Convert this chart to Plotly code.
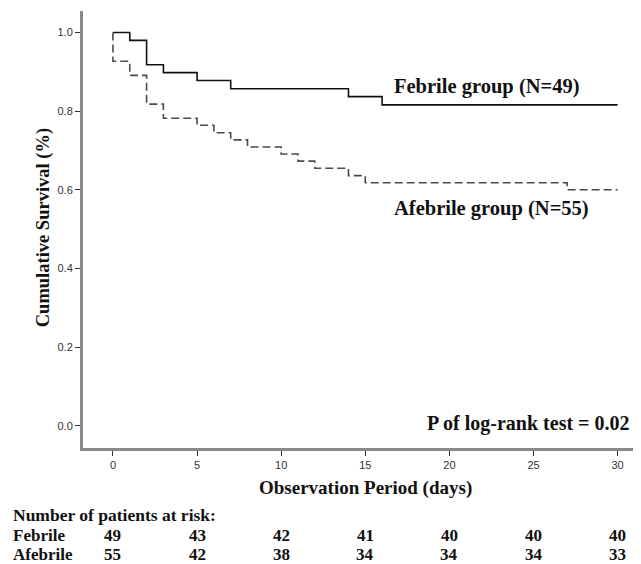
import plotly.graph_objects as go

# Kaplan-Meier step data
febrile_t = [0, 1, 2, 3, 5, 7, 14, 16, 30]
febrile_s = [1.0, 0.980, 0.918, 0.898, 0.878, 0.857, 0.837, 0.816, 0.816]

afebrile_t = [0, 0, 1, 2, 3, 5, 6, 7, 8, 10, 11, 12, 14, 15, 27, 30]
afebrile_s = [1.0, 0.927, 0.891, 0.818, 0.782, 0.764, 0.745, 0.727, 0.709,
              0.691, 0.673, 0.655, 0.636, 0.618, 0.600, 0.600]

risk_times = [0, 5, 10, 15, 20, 25, 30]
risk_febrile = [49, 43, 42, 41, 40, 40, 40]
risk_afebrile = [55, 42, 38, 34, 34, 34, 33]

x_ticks = [0, 5, 10, 15, 20, 25, 30]
y_ticks = [0.0, 0.2, 0.4, 0.6, 0.8, 1.0]

SERIF = "Liberation Serif"
SANS = "Liberation Sans"

fig = go.Figure()
fig.add_trace(go.Scatter(x=febrile_t, y=febrile_s, mode="lines", line_shape="hv",
                         line=dict(color="#111111", width=1.6), showlegend=False,
                         hoverinfo="skip"))
fig.add_trace(go.Scatter(x=afebrile_t, y=afebrile_s, mode="lines", line_shape="hv",
                         line=dict(color="#4a4a4a", width=1.6, dash="8px,4px"),
                         showlegend=False, hoverinfo="skip"))

ROW_H = -0.1541
ROW_F = -0.1999
ROW_A = -0.2434
TBL = 17

ann = []
ann.append(dict(x=16.6, y=0.864, xref="x", yref="y", text="Febrile group (N=49)",
                xanchor="left", yanchor="middle", showarrow=False,
                font=dict(family=SERIF, size=20.5, color="#111", weight="bold")))
ann.append(dict(x=16.6, y=0.553, xref="x", yref="y", text="Afebrile group (N=55)",
                xanchor="left", yanchor="middle", showarrow=False,
                font=dict(family=SERIF, size=20.5, color="#111", weight="bold")))
ann.append(dict(x=30.84, y=0.007, xref="x", yref="y", text="P of log-rank test = 0.02",
                xanchor="right", yanchor="middle", showarrow=False,
                font=dict(family=SERIF, size=20, color="#111", weight="bold")))
# axis titles
ann.append(dict(x=15, y=-0.0923, xref="x", yref="paper", text="Observation Period (days)",
                xanchor="center", yanchor="middle", showarrow=False,
                font=dict(family=SERIF, size=19, color="#111", weight="bold")))
ann.append(dict(x=-0.0704, y=0.5045, xref="paper", yref="paper", text="Cumulative Survival (%)",
                xanchor="center", yanchor="middle", showarrow=False, textangle=-90,
                font=dict(family=SERIF, size=18.5, color="#111", weight="bold")))
# risk table
ann.append(dict(x=-0.1272, y=ROW_H, xref="paper", yref="paper", text="Number of patients at risk:",
                xanchor="left", yanchor="middle", showarrow=False, borderpad=0,
                font=dict(family=SERIF, size=17.5, color="#111", weight="bold")))
ann.append(dict(x=-0.1272, y=ROW_F, xref="paper", yref="paper", text="Febrile",
                xanchor="left", yanchor="middle", showarrow=False, borderpad=0,
                font=dict(family=SERIF, size=TBL, color="#111", weight="bold")))
ann.append(dict(x=-0.1272, y=ROW_A, xref="paper", yref="paper", text="Afebrile",
                xanchor="left", yanchor="middle", showarrow=False, borderpad=0,
                font=dict(family=SERIF, size=TBL, color="#111", weight="bold")))
for t, n in zip(risk_times, risk_febrile):
    ann.append(dict(x=t, y=ROW_F, xref="x", yref="paper", text=str(n),
                    xanchor="center", yanchor="middle", showarrow=False, borderpad=0,
                    font=dict(family=SERIF, size=TBL, color="#111", weight="bold")))
for t, n in zip(risk_times, risk_afebrile):
    ann.append(dict(x=t, y=ROW_A, xref="x", yref="paper", text=str(n),
                    xanchor="center", yanchor="middle", showarrow=False, borderpad=0,
                    font=dict(family=SERIF, size=TBL, color="#111", weight="bold")))

# The page body has an 8px margin, so the figure is 8px smaller and shifted.
fig.update_layout(
    width=633, height=556,
    margin=dict(l=75, r=0, t=3, b=116.3, pad=0),
    paper_bgcolor="white", plot_bgcolor="white",
    annotations=ann,
    xaxis=dict(range=[-1.78, 31.39], tickvals=x_ticks, ticktext=[str(v) for v in x_ticks],
               showgrid=False, zeroline=False, showline=True, linecolor="#8a8a8a",
               linewidth=3, ticks="outside", ticklen=5, tickwidth=1, tickcolor="#333",
               tickfont=dict(family=SANS, size=11, color="#333"), fixedrange=True),
    yaxis=dict(range=[-0.0565, 1.0547], tickvals=y_ticks,
               ticktext=[f"{v:.1f}" for v in y_ticks],
               showgrid=False, zeroline=False, showline=True, linecolor="#8a8a8a",
               linewidth=3, ticks="outside", ticklen=5, tickwidth=1, tickcolor="#333",
               tickfont=dict(family=SANS, size=11, color="#333"), fixedrange=True),
)

fig.write_html("out.html")
